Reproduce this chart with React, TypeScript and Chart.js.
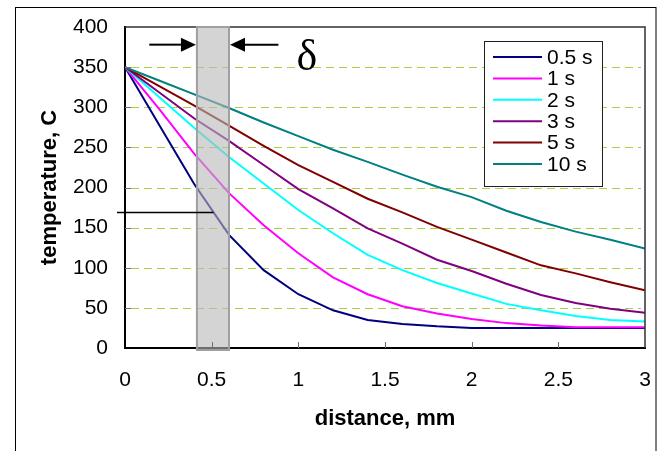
import React, { useEffect, useRef } from "react";
import { Chart, registerables } from "chart.js";

Chart.register(...registerables);

// ---- data ----
const distances = [0, 0.2, 0.4, 0.6, 0.8, 1.0, 1.2, 1.4, 1.6, 1.8, 2.0, 2.2, 2.4, 2.6, 2.8, 3.0];
const seriesLabels = ["0.5 s", "1 s", "2 s", "3 s", "5 s", "10 s"];
const temp05s = [350, 277, 204, 141, 97, 67, 47, 35, 30, 27, 25, 25, 25, 25, 25, 25];
const temp1s = [350, 297, 242, 193, 153, 118, 88, 67, 52, 43, 36, 31, 28, 26, 26, 26];
const temp2s = [350, 312, 274, 238, 205, 172, 143, 116, 97, 81, 68, 55, 47, 40, 35, 33];
const temp3s = [350, 318, 286, 258, 228, 198, 174, 149, 130, 110, 96, 80, 66, 56, 49, 44];
const temp5s = [350, 326, 302, 277, 252, 228, 207, 186, 169, 151, 135, 119, 103, 93, 82, 72];
const temp10s = [350, 333, 316, 299, 281, 264, 247, 232, 216, 201, 188, 171, 157, 145, 135, 124];
const seriesValues = [temp05s, temp1s, temp2s, temp3s, temp5s, temp10s];
const seriesColors = ["#000080", "#ff00ff", "#00ffff", "#800080", "#800000", "#008080"];

const yGridValues = [50, 100, 150, 200, 250, 300, 350];
const xTickMarks = [0.5, 1, 1.5, 2, 2.5];

// annotation values (in data units)
const bandStart = 0.415;
const bandEnd = 0.6;
const markerTemp = 170;
const markerDistance = 0.51;
const arrowTemp = 378;
const arrowLeftFrom = 0.14;
const arrowRightFrom = 0.885;
const deltaText = "δ";
const deltaX = 0.99;
const deltaY = 346;

const FONT = "'Liberation Sans', Arial, sans-serif";

const decorPlugin = {
  id: "decor",
  beforeDraw(chart: any) {
    const ctx = chart.ctx;
    ctx.save();
    ctx.fillStyle = "#ffffff";
    ctx.fillRect(0, 0, chart.width, chart.height);
    ctx.strokeStyle = "#000000";
    ctx.lineWidth = 1;
    ctx.strokeRect(15.5, 7.5, chart.width - 16.5, chart.height + 20);
    ctx.restore();
  },
  beforeDatasetsDraw(chart: any) {
    const ctx = chart.ctx;
    const { left, right } = chart.chartArea;
    const y = chart.scales.y;
    ctx.save();
    ctx.strokeStyle = "#a8d040";
    ctx.lineWidth = 1;
    ctx.setLineDash([8, 5]);
    yGridValues.forEach((v) => {
      const py = Math.round(y.getPixelForValue(v)) + 0.5;
      ctx.beginPath();
      ctx.moveTo(left + 6, py);
      ctx.lineTo(right - 4, py);
      ctx.stroke();
    });
    ctx.restore();
  },
  afterDatasetsDraw(chart: any) {
    const ctx = chart.ctx;
    const { left, right, top, bottom } = chart.chartArea;
    const x = chart.scales.x;
    const y = chart.scales.y;
    ctx.save();
    // plot frame top/right
    ctx.strokeStyle = "#303030";
    ctx.lineWidth = 1.5;
    ctx.beginPath();
    ctx.moveTo(left, top);
    ctx.lineTo(right, top);
    ctx.lineTo(right, bottom);
    ctx.stroke();

    // band
    const bx1 = x.getPixelForValue(bandStart);
    const bx2 = x.getPixelForValue(bandEnd);
    ctx.fillStyle = "rgba(184,184,184,0.6)";
    ctx.fillRect(bx1, top, bx2 - bx1, bottom + 2 - top);
    ctx.strokeStyle = "#a0a0a0";
    ctx.lineWidth = 2;
    ctx.strokeRect(bx1, top, bx2 - bx1, bottom + 2 - top);

    // inward tick marks
    ctx.strokeStyle = "#707070";
    ctx.lineWidth = 1;
    xTickMarks.forEach((v) => {
      const px = Math.round(x.getPixelForValue(v)) + 0.5;
      ctx.beginPath();
      ctx.moveTo(px, bottom);
      ctx.lineTo(px, bottom - 6);
      ctx.stroke();
    });
    yGridValues.forEach((v) => {
      const py = Math.round(y.getPixelForValue(v)) + 0.5;
      ctx.beginPath();
      ctx.moveTo(left, py);
      ctx.lineTo(left + 6, py);
      ctx.stroke();
    });

    // marker line
    const my = Math.round(y.getPixelForValue(markerTemp)) + 0.5;
    ctx.strokeStyle = "#000000";
    ctx.lineWidth = 1.5;
    ctx.beginPath();
    ctx.moveTo(left - 8, my);
    ctx.lineTo(x.getPixelForValue(markerDistance), my);
    ctx.stroke();

    // arrows
    const ay = y.getPixelForValue(arrowTemp);
    const drawArrow = (fromX: number, toX: number) => {
      const dir = Math.sign(toX - fromX);
      const headLen = 15;
      ctx.strokeStyle = "#000";
      ctx.lineWidth = 2;
      ctx.beginPath();
      ctx.moveTo(fromX, ay);
      ctx.lineTo(toX - dir * headLen, ay);
      ctx.stroke();
      ctx.fillStyle = "#000";
      ctx.beginPath();
      ctx.moveTo(toX, ay);
      ctx.lineTo(toX - dir * headLen, ay - 7);
      ctx.lineTo(toX - dir * headLen, ay + 7);
      ctx.closePath();
      ctx.fill();
    };
    drawArrow(x.getPixelForValue(arrowLeftFrom), bx1 - 1);
    drawArrow(x.getPixelForValue(arrowRightFrom), bx2 + 1);

    // delta label
    ctx.fillStyle = "#000";
    ctx.font = "44px 'Liberation Serif', 'Times New Roman', serif";
    ctx.textAlign = "left";
    ctx.textBaseline = "alphabetic";
    ctx.fillText(deltaText, x.getPixelForValue(deltaX), y.getPixelForValue(deltaY));

    // legend
    const lx = right - 161;
    const ly = top + 14;
    const lw = 118;
    const lh = 145;
    ctx.fillStyle = "#ffffff";
    ctx.fillRect(lx, ly, lw, lh);
    ctx.strokeStyle = "#202020";
    ctx.lineWidth = 1;
    ctx.strokeRect(lx + 0.5, ly + 0.5, lw, lh);
    ctx.font = "21px " + FONT;
    ctx.textBaseline = "middle";
    chart.data.datasets.forEach((ds: any, i: number) => {
      const ry = ly + 16 + i * 21.4;
      ctx.strokeStyle = ds.borderColor;
      ctx.lineWidth = 2;
      ctx.beginPath();
      ctx.moveTo(lx + 9, ry);
      ctx.lineTo(lx + 58, ry);
      ctx.stroke();
      ctx.fillStyle = "#000";
      ctx.fillText(ds.label, lx + 63, ry + 1);
    });
    ctx.restore();
  },
};

export default function App() {
  const canvasRef = useRef<HTMLCanvasElement | null>(null);

  useEffect(() => {
    if (!canvasRef.current) return;
    const datasets = seriesLabels.map((label, i) => ({
      label,
      data: distances.map((d, j) => ({ x: d, y: seriesValues[i][j] })),
      borderColor: seriesColors[i],
      backgroundColor: seriesColors[i],
      borderWidth: 2,
      pointRadius: 0,
      tension: 0,
      fill: false,
      order: seriesLabels.length - i,
    }));
    const chart = new Chart(canvasRef.current, {
      type: "line",
      data: { datasets },
      plugins: [decorPlugin],
      options: {
        animation: false,
        responsive: true,
        maintainAspectRatio: false,
        layout: { padding: { left: 0, top: 27, right: 12, bottom: 0 } },
        plugins: { legend: { display: false }, tooltip: { enabled: false } },
        scales: {
          x: {
            type: "linear",
            min: 0,
            max: 3,
            ticks: {
              stepSize: 0.5,
              color: "#000",
              padding: 20,
              font: { family: FONT, size: 21 },
              callback: (v: any) => String(Math.round(Number(v) * 10) / 10),
            },
            grid: { display: false, drawTicks: false },
            border: { display: true, color: "#000", width: 2 },
            title: {
              display: true,
              text: "distance, mm",
              color: "#000",
              font: { family: FONT, size: 22, weight: "bold" },
              padding: { top: 0, bottom: 19 },
            },
            afterFit: (s: any) => {
              s.height = 103;
              s.paddingLeft = 0;
              s.paddingRight = 0;
            },
          },
          y: {
            type: "linear",
            min: 0,
            max: 400,
            ticks: { stepSize: 50, color: "#000", padding: 17, font: { family: FONT, size: 21 } },
            grid: { display: false, drawTicks: false },
            border: { display: true, color: "#000", width: 2 },
            title: {
              display: true,
              text: "temperature, C",
              color: "#000",
              font: { family: FONT, size: 22, weight: "bold" },
              padding: { top: 37, bottom: 0 },
            },
            afterFit: (s: any) => {
              s.width = 125;
              s.paddingTop = 0;
              s.paddingBottom = 0;
            },
          },
        },
      },
    } as any);
    return () => chart.destroy();
  }, []);

  return (
    <div style={{ position: "fixed", left: 0, top: 0, width: 657, height: 451, background: "#fff" }}>
      <canvas ref={canvasRef} />
    </div>
  );
}
